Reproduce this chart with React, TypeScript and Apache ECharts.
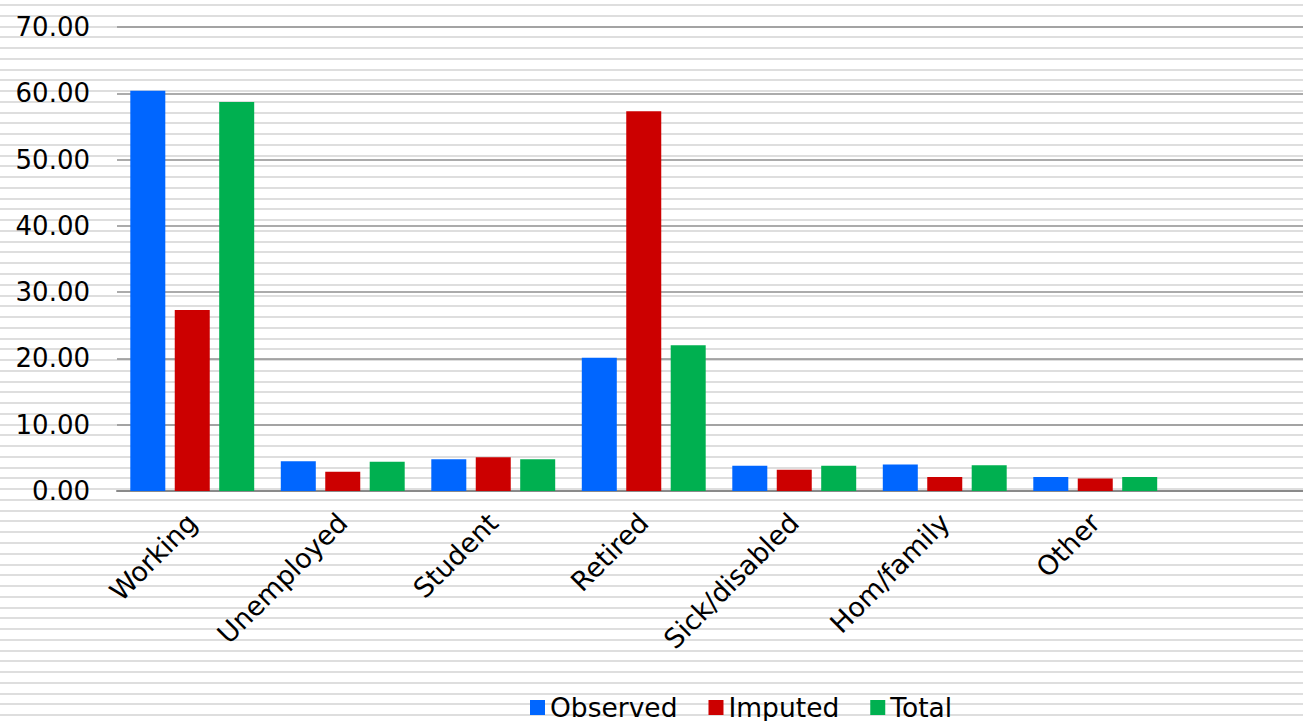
import React, { useEffect, useRef } from "react";
import * as echarts from "echarts";

const CATEGORIES = ["Working", "Unemployed", "Student", "Retired", "Sick/disabled", "Hom/family", "Other"];
const OBSERVED = [60.4, 4.5, 4.8, 20.1, 3.8, 4.0, 2.1];
const IMPUTED = [27.3, 2.9, 5.1, 57.3, 3.2, 2.1, 1.9];
const TOTAL = [58.7, 4.4, 4.8, 22.0, 3.8, 3.9, 2.1];
const SERIES_NAMES = ["Observed", "Imputed", "Total"];
const COLORS = ["#0066ff", "#cc0000", "#00b050"];
const Y_MIN = 0;
const Y_MAX = 70;
const Y_STEP = 10;

const FONT = "DejaVu Sans, Verdana, sans-serif";

export default function App() {
  const ref = useRef<HTMLDivElement>(null);

  useEffect(() => {
    if (!ref.current) return;
    const chart = echarts.init(ref.current, null, { renderer: "svg" });
    const values = [OBSERVED, IMPUTED, TOTAL];
    chart.setOption({
      animation: false,
      textStyle: { fontFamily: FONT },
      grid: [
        // bar area: seven category bands
        { left: 117, top: 27, height: 464, width: 1053.5, containLabel: false },
        // frame that carries the value scale, gridlines and baseline to the right edge
        { left: 117, top: 27, height: 464, right: 0, containLabel: false },
      ],
      legend: {
        data: SERIES_NAMES,
        left: 530,
        top: 694,
        padding: 0,
        icon: "rect",
        itemWidth: 15,
        itemHeight: 15,
        itemGap: 31,
        textStyle: { fontSize: 26.5, color: "#000", fontFamily: FONT },
      },
      xAxis: [
        {
          type: "category",
          gridIndex: 0,
          data: CATEGORIES,
          axisLine: { show: false },
          axisTick: { show: false },
          axisLabel: {
            interval: 0,
            rotate: 45,
            margin: 27,
            fontSize: 27,
            color: "#000",
            fontFamily: FONT,
          },
        },
        {
          type: "value",
          gridIndex: 1,
          min: 0,
          max: 1,
          axisLine: { show: true, onZero: false, lineStyle: { color: "#8a8a8a", width: 2 } },
          axisTick: { show: false },
          axisLabel: { show: false },
          splitLine: { show: false },
        },
      ],
      yAxis: [
        {
          type: "value",
          gridIndex: 0,
          min: Y_MIN,
          max: Y_MAX,
          interval: Y_STEP,
          show: false,
        },
        {
          type: "value",
          gridIndex: 1,
          min: Y_MIN,
          max: Y_MAX,
          interval: Y_STEP,
          axisLine: { show: false },
          axisTick: { show: false },
          axisLabel: {
            margin: 27,
            fontSize: 26,
            color: "#000",
            fontFamily: FONT,
            formatter: (v: number) => v.toFixed(2),
          },
          splitLine: { show: true, lineStyle: { color: "#8f8f8f", width: 1.5 } },
        },
      ],
      series: SERIES_NAMES.map((name, i) => ({
        name,
        type: "bar",
        xAxisIndex: 0,
        yAxisIndex: 0,
        data: values[i],
        barWidth: 35,
        barGap: "27%",
        z: 3,
        itemStyle: { color: COLORS[i] },
      })),
    });
    return () => chart.dispose();
  }, []);

  return (
    <div
      ref={ref}
      style={{
        position: "absolute",
        left: 0,
        top: 0,
        width: 1303,
        height: 721,
        backgroundColor: "#ffffff",
        backgroundImage:
          "repeating-linear-gradient(to bottom, #dedede 0px, #dedede 2px, #ffffff 2px, #ffffff 10.76px)",
        backgroundPosition: "0px 4px",
      }}
    />
  );
}
